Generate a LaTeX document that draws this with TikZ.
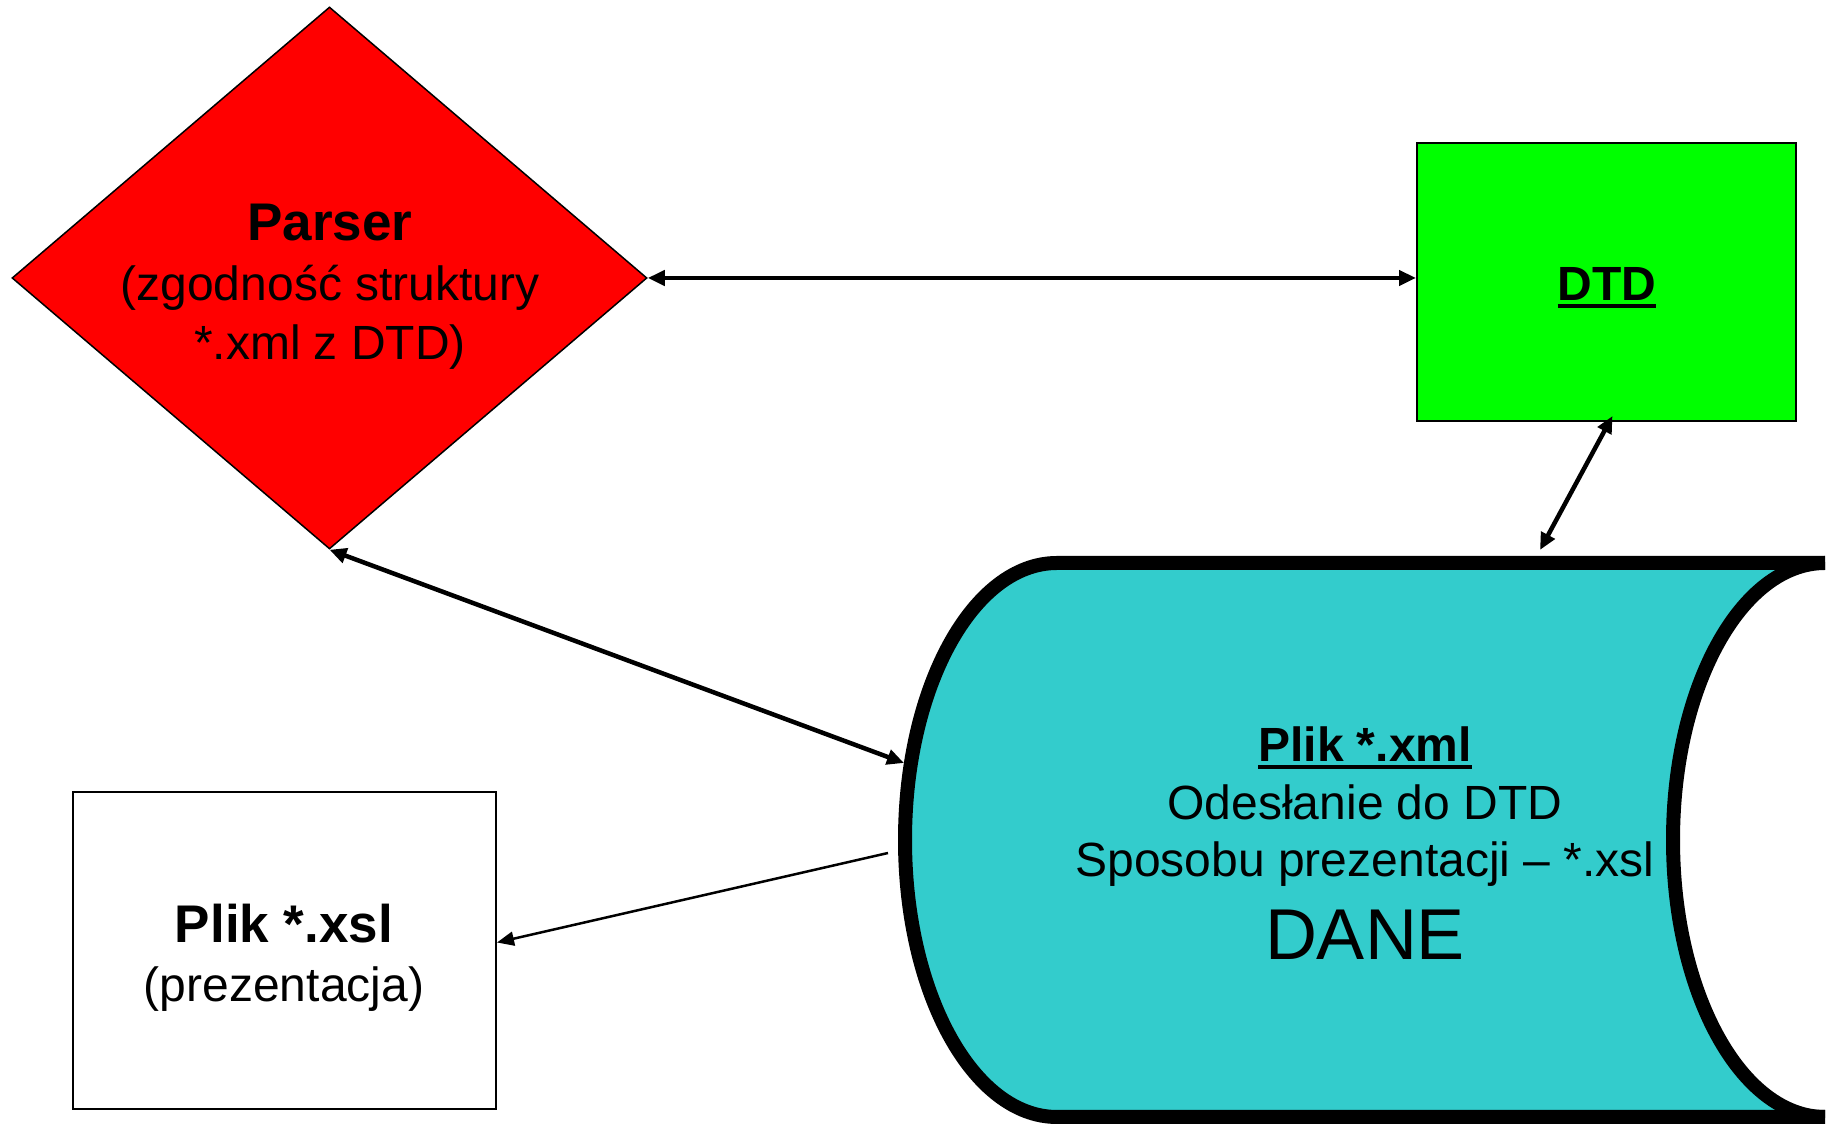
\documentclass[tikz,border=0pt]{standalone}
\usepackage{fontspec}
\setmainfont{Liberation Sans}
\usetikzlibrary{shapes.geometric,arrows.meta,calc}
\definecolor{parserred}{RGB}{255,0,0}
\definecolor{dtdgreen}{RGB}{0,255,0}
\definecolor{cylteal}{RGB}{51,204,204}
\newcommand\myul[1]{\setbox0\hbox{#1}\rlap{\rule[-7pt]{\wd0}{3.5pt}}\box0}
\begin{document}
\begin{tikzpicture}[x=1pt,y=1pt,
  txt/.style={anchor=base,inner sep=0pt,font=\fontsize{48}{58}\selectfont},
  bigtxt/.style={anchor=base,inner sep=0pt,font=\fontsize{72}{86}\selectfont},
  titletxt/.style={anchor=base,inner sep=0pt,font=\fontsize{53}{64}\selectfont\bfseries},
  conn/.style={line width=4.5pt,{Triangle[length=17pt,width=15pt]}-{Triangle[length=17pt,width=15pt]}},
  oneway/.style={line width=2.5pt,-{Triangle[length=17pt,width=14pt]}}]
\useasboundingbox (0,0) rectangle (1835,1131);
\clip (0,0) rectangle (1835,1131);
% shapes
\node[draw,line width=1.5pt,fill=parserred,shape=diamond,inner sep=0pt,minimum width=635,minimum height=542] (parser) at (329.5,853) {};
\node[draw,line width=2pt,fill=dtdgreen,rectangle,inner sep=0pt,minimum width=379,minimum height=278] (dtd) at (1606.5,849) {};
\node[draw,line width=2pt,fill=white,rectangle,inner sep=0pt,minimum width=423,minimum height=317] (xsl) at (284.5,180.5) {};
% cylinder
\fill[cylteal] (1057,568) -- (1825,568) arc[start angle=90,end angle=270,x radius=152,y radius=277] -- (1057,14) arc[start angle=270,end angle=90,x radius=152,y radius=277] -- cycle;
\draw[line width=14pt] (1825,568) -- (1057,568) arc[start angle=90,end angle=270,x radius=152,y radius=277] -- (1825,14);
\draw[line width=14pt] (1825,568) arc[start angle=90,end angle=270,x radius=152,y radius=277];
\coordinate (cylL) at (904,368);
\coordinate (cylT) at (1540,581);
\coordinate (cylX) at (888,278);
% texts
\node[titletxt] (parserA) at (330,890) {Parser};
\node[txt] (parserB) at (330,830) {(zgodność struktury};
\node[txt] (parserC) at (330,771) {*.xml z DTD)};
\node[txt,font=\fontsize{48}{58}\selectfont\bfseries] (dtdA) at (1607,830) {\myul{DTD}};
\node[txt,font=\fontsize{48}{58}\selectfont\bfseries] (xmlA) at (1365,369) {\myul{Plik *.xml}};
\node[txt] (xmlB) at (1365,311) {Odesłanie do DTD};
\node[txt] (xmlC) at (1365,254) {Sposobu prezentacji – *.xsl};
\node[bigtxt] (xmlD) at (1365,171) {DANE};
\node[titletxt] (xslA) at (284,188) {Plik *.xsl};
\node[txt] (xslB) at (284,129) {(prezentacja)};
% connectors
\draw[conn] (parser.east) -- (parser.east -| dtd.west);
\draw[conn] ([shift={(6,6)}]dtd.south) -- (cylT);
\draw[conn] (parser.south) -- (cylL);
\draw[oneway] (cylX) -- ([yshift=8]xsl.east);
\end{tikzpicture}
\end{document}
